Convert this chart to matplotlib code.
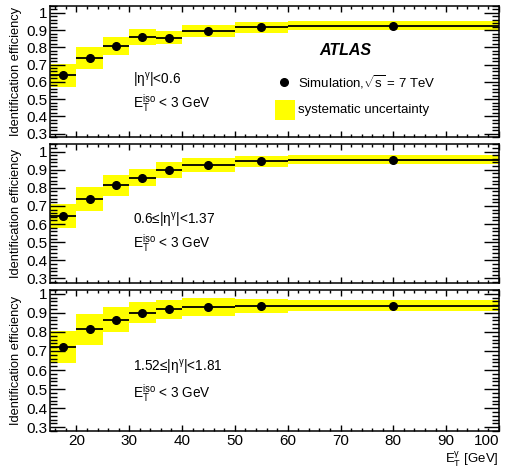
import matplotlib
matplotlib.use("Agg")
import matplotlib.pyplot as plt
import matplotlib.patches as mpatches
from matplotlib.ticker import MultipleLocator, FuncFormatter
import numpy as np

plt.rcParams['font.family'] = ['Liberation Sans', 'DejaVu Sans']
plt.rcParams['mathtext.fontset'] = 'custom'
plt.rcParams['mathtext.rm'] = 'Liberation Sans'
plt.rcParams['mathtext.it'] = 'Liberation Sans:italic'
plt.rcParams['mathtext.bf'] = 'Liberation Sans:bold'

# Bin edges in E_T^gamma [GeV]
bin_edges = [15, 20, 25, 30, 35, 40, 50, 60, 100]

# Efficiency values per eta region
eff_central = [0.637, 0.740, 0.806, 0.858, 0.857, 0.896, 0.916, 0.925]
sys_central = [0.068, 0.065, 0.053, 0.047, 0.040, 0.036, 0.033, 0.027]

eff_mid = [0.644, 0.737, 0.815, 0.856, 0.900, 0.925, 0.946, 0.955]
sys_mid = [0.067, 0.067, 0.058, 0.048, 0.043, 0.038, 0.031, 0.025]

eff_fwd = [0.722, 0.813, 0.865, 0.900, 0.918, 0.931, 0.935, 0.937]
sys_fwd = [0.083, 0.081, 0.064, 0.055, 0.050, 0.045, 0.036, 0.029]

region_labels = [r'|$\mathrm{\eta}^{\mathrm{\gamma}}$|<0.6',
                 r'0.6≤|$\mathrm{\eta}^{\mathrm{\gamma}}$|<1.37',
                 r'1.52≤|$\mathrm{\eta}^{\mathrm{\gamma}}$|<1.81']
iso_label = r'$\mathrm{E}_{\mathrm{T}}^{\mathrm{iso}}$ < 3 GeV'

panels = [(eff_central, sys_central, (0.28, 1.04)),
          (eff_mid, sys_mid, (0.275, 1.042)),
          (eff_fwd, sys_fwd, (0.28, 1.02))]
label_y = [(0.435, 0.26), (0.45, 0.29), (0.45, 0.27)]

W, H = 509, 469
fig = plt.figure(figsize=(W / 100, H / 100), dpi=100)

# axes pixel boxes (top, bottom)
boxes = [(6, 137), (144, 283), (290, 431)]
left_px, right_px = 50, 499

edges = np.array(bin_edges, dtype=float)
centers = 0.5 * (edges[:-1] + edges[1:])
halfw = 0.5 * (edges[1:] - edges[:-1])

def yfmt(v, p):
    return '1' if abs(v - 1) < 1e-6 else ('%.1f' % v)

for i, ((eff, sysu, ylim), (top, bot)) in enumerate(zip(panels, boxes)):
    ax = fig.add_axes([left_px / W, 1 - bot / H, (right_px - left_px) / W, (bot - top) / H])
    eff = np.array(eff)
    sysu = np.array(sysu)
    for c, hw, e, s in zip(centers, halfw, eff, sysu):
        ax.add_patch(mpatches.Rectangle((c - hw, e - s), 2 * hw, 2 * s,
                                        facecolor='#ffff00', edgecolor='none', zorder=1))
    ax.errorbar(centers, eff, xerr=halfw, fmt='o', color='black', ms=5.5,
                elinewidth=1.3, capsize=0, zorder=3)
    ax.set_xlim(15, 100)
    ax.set_ylim(*ylim)
    ax.xaxis.set_major_locator(MultipleLocator(10))
    ax.xaxis.set_minor_locator(MultipleLocator(2))
    ax.yaxis.set_major_locator(MultipleLocator(0.1))
    ax.yaxis.set_minor_locator(MultipleLocator(0.02))
    ax.tick_params(which='both', direction='in', top=True, right=True, labelsize=11)
    ax.tick_params(axis='y', which='major', length=11, width=1, pad=2)
    ax.tick_params(axis='y', which='minor', length=5, width=1)
    ax.tick_params(axis='x', which='major', length=4, width=1, pad=2)
    ax.tick_params(axis='x', which='minor', length=2, width=1)
    ax.yaxis.set_major_formatter(FuncFormatter(yfmt))
    for sp in ax.spines.values():
        sp.set_linewidth(1.1)
    if i < 2:
        ax.set_xticklabels([])
    ax.set_ylabel('Identification efficiency', fontsize=9.3, labelpad=3)

    ax.text(30.7, label_y[i][0], region_labels[i], transform=ax.get_xaxis_transform(),
            fontsize=9.8, va='center', ha='left')
    ax.text(30.7, label_y[i][1], iso_label, transform=ax.get_xaxis_transform(),
            fontsize=9.8, va='center', ha='left')

    if i == 0:
        ax.text(71, 0.66, 'ATLAS', transform=ax.get_xaxis_transform(),
                fontsize=11.5, fontweight='bold', fontstyle='italic', ha='center', va='center')
        ax.plot([59.3], [0.42], 'o', color='black', ms=5.5,
                transform=ax.get_xaxis_transform(), clip_on=False)
        ax.text(62, 0.42, r'Simulation,$\sqrt{\mathrm{s}}$ = 7 TeV',
                transform=ax.get_xaxis_transform(), fontsize=9.5, va='center', ha='left')
        ax.add_patch(mpatches.Rectangle((57.6, 0.13), 3.8, 0.15, facecolor='#ffff00',
                                        edgecolor='none', transform=ax.get_xaxis_transform()))
        ax.text(62, 0.205, 'systematic uncertainty', transform=ax.get_xaxis_transform(),
                fontsize=9.5, va='center', ha='left')
    if i == 2:
        ax.set_xlabel(r'$\mathrm{E}_{\mathrm{T}}^{\mathrm{\gamma}}$ [GeV]', fontsize=9.5)
        ax.xaxis.set_label_coords(1.0, -0.132)
        ax.xaxis.label.set_ha('right')
        fig.canvas.draw()
        for t in ax.get_xticklabels():
            if t.get_text() == '100':
                t.set_ha('right')

fig.savefig('out.png', dpi=100)
